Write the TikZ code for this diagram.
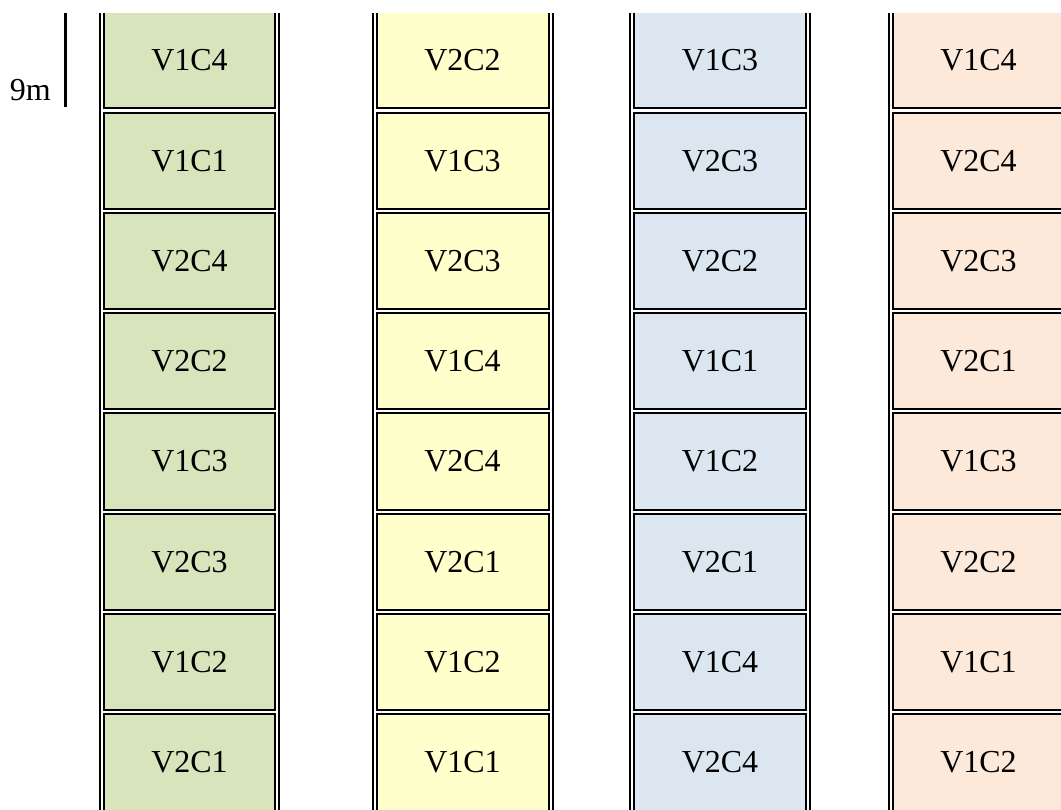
\documentclass[tikz,border=0pt]{standalone}
\usepackage{fontspec}
\setmainfont{Liberation Serif}
\definecolor{plotGreen}{HTML}{D8E4BC}
\definecolor{plotYellow}{HTML}{FFFFCC}
\definecolor{plotBlue}{HTML}{DCE6F1}
\definecolor{plotPeach}{HTML}{FDE9D9}
\begin{document}
\begin{tikzpicture}[x=0.75pt,y=-0.75pt,
  rail/.style={draw=black, line width=1.5pt},
  plotcell/.style={draw=black, line width=1.5pt, inner sep=0pt,
    minimum height=72.2pt, anchor=center,
    font=\fontsize{24}{28}\selectfont},
  scalebar/.style={draw=black, line width=1.6pt},
  scalelabel/.style={inner sep=0pt, font=\fontsize{24}{28}\selectfont}
]
\useasboundingbox (0,0) rectangle (1061,810);

% scale mark beside the first strip
\coordinate (bartop) at (65.5,13);
\coordinate (barbot) at (65.5,107);
\draw[scalebar] (bartop) -- (barbot);
\node[scalelabel, anchor=base east] (len) at (51,100) {9m};

\begin{scope}
  \clip (0,13) rectangle (1061,810);
  % four strips of eight plots each
  \foreach \L/\R/\W/\fc/\labels [count=\i] in {
      100/279/171/plotGreen/{V1C4,V1C1,V2C4,V2C2,V1C3,V2C3,V1C2,V2C1},
      372.5/552.5/172/plotYellow/{V2C2,V1C3,V2C3,V1C4,V2C4,V2C1,V1C2,V1C1},
      630/810/172/plotBlue/{V1C3,V2C3,V2C2,V1C1,V1C2,V2C1,V1C4,V2C4},
      889/1068/171/plotPeach/{V1C4,V2C4,V2C3,V2C1,V1C3,V2C2,V1C1,V1C2}} {
    \draw[rail] (\L,0) -- (\L,830);
    \draw[rail] (\R,0) -- (\R,830);
    \pgfmathsetmacro{\cx}{(\L+\R)/2}
    \foreach \t [count=\j] in \labels {
      \pgfmathsetmacro{\cy}{60.35+100.3*(\j-1)}
      \node[plotcell, fill=\fc, minimum width=\W*0.75pt] (c\i-\j) at (\cx,\cy) {\t};
    }
  }
\end{scope}
\end{tikzpicture}
\end{document}
